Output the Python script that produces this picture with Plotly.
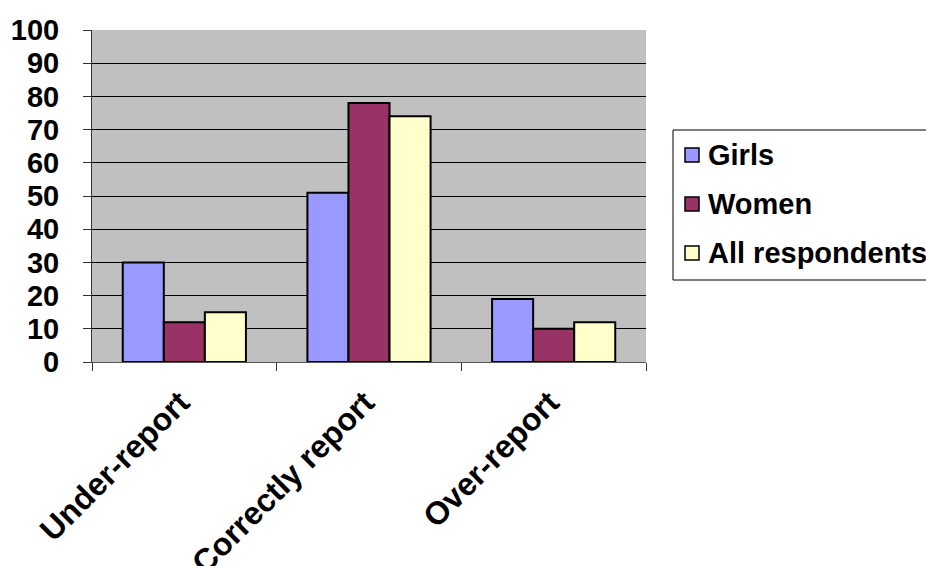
import plotly.graph_objects as go

categories = ["Under-report", "Correctly report", "Over-report"]
series_names = ["Girls", "Women", "All respondents"]
girls = [30, 51, 19]
women = [12, 78, 10]
all_respondents = [15, 74, 12]
series_values = [girls, women, all_respondents]
colors = ["#9999FF", "#993366", "#FFFFCC"]
y_ticks = [0, 10, 20, 30, 40, 50, 60, 70, 80, 90, 100]

W, H = 926, 566
L, R, T, B = 92, 280, 30, 204
FONT = "Liberation Sans, Arial, sans-serif"
FS = 29
FS_X = 32

fig = go.Figure()
for name, vals, col in zip(series_names, series_values, colors):
    fig.add_trace(go.Bar(
        x=categories, y=vals, name=name,
        marker=dict(color=col, line=dict(color="black", width=2)),
    ))

fig.update_layout(
    width=W, height=H,
    margin=dict(l=L, r=R, t=T, b=B, autoexpand=False),
    paper_bgcolor="white",
    plot_bgcolor="#C0C0C0",
    barmode="group",
    bargap=0.333,
    bargroupgap=0,
    showlegend=False,
    font=dict(family=FONT, size=FS, color="black", weight="bold"),
)
fig.update_yaxes(
    range=[0, 100], tickvals=y_ticks, ticktext=[str(v) for v in y_ticks],
    showgrid=True, gridcolor="black", gridwidth=1,
    showline=True, linecolor="#333333", linewidth=1,
    ticks="outside", ticklen=8, tickcolor="#333333",
    ticklabelstandoff=18, zeroline=False,
)
fig.update_xaxes(
    tickson="boundaries", ticks="outside", ticklen=8, tickcolor="#333333",
    showline=True, linecolor="#555555", linewidth=1,
    tickangle=-45, showgrid=False,
    ticklabelstandoff=8, ticklabelshift=-4,
    tickfont=dict(family=FONT, size=FS_X, color="black", weight="bold"),
)

# Legend drawn as a box with swatches and labels
def px_x(p):
    return (p - L) / (W - L - R)

def px_y(p):
    return (H - B - p) / (H - T - B)

fig.add_shape(type="rect", xref="paper", yref="paper",
              x0=px_x(673), x1=px_x(960), y0=px_y(280), y1=px_y(130),
              line=dict(color="black", width=1), fillcolor="white", layer="above")
for i, (name, col) in enumerate(zip(series_names, colors)):
    cy = 155 + 49 * i
    fig.add_shape(type="rect", xref="paper", yref="paper",
                  x0=px_x(685), x1=px_x(699), y0=px_y(cy + 7), y1=px_y(cy - 7),
                  line=dict(color="black", width=1.5), fillcolor=col, layer="above")
    fig.add_annotation(xref="paper", yref="paper", x=px_x(706), y=px_y(cy),
                       text=name, showarrow=False, xanchor="left", yanchor="middle",
                       font=dict(family=FONT, size=FS, color="black", weight="bold"))

fig.write_html("out.html")
